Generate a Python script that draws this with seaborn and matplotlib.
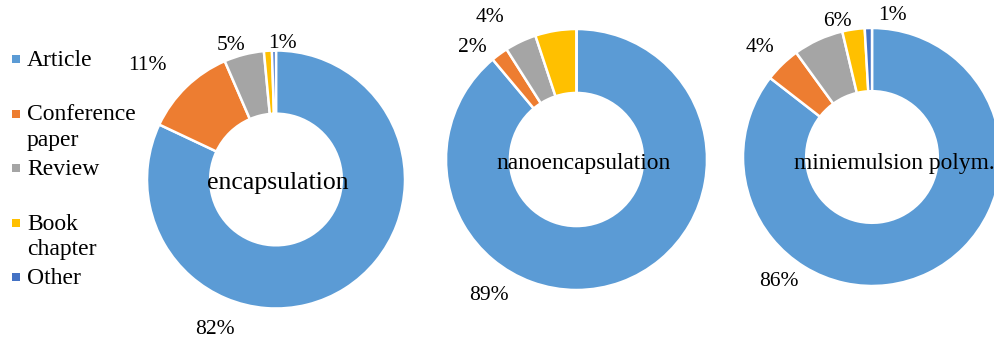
import matplotlib
matplotlib.use('Agg')

import matplotlib.pyplot as plt
import matplotlib.patches as mpatches
import seaborn as sns

# document types (legend order = wedge order, clockwise from 12 o'clock)
categories = ['Article', 'Conference paper', 'Review', 'Book chapter', 'Other']
legend_labels = ['Article', 'Conference\npaper', 'Review', 'Book\nchapter', 'Other']
colors = ['#5B9BD5', '#ED7D31', '#A5A5A5', '#FFC000', '#4472C4']

# one donut per search topic, shares in %
topics = ['encapsulation', 'nanoencapsulation', 'miniemulsion polym.']
encapsulation_share = [82.0, 11.5, 5.0, 1.0, 0.5]
nanoencapsulation_share = [88.9, 2.1, 3.9, 5.1, 0.0]
miniemulsion_share = [85.5, 4.5, 6.3, 2.8, 0.9]

# data labels as printed on the chart ('' = not shown)
encapsulation_labels = ['82%', '11%', '5%', '', '1%']
nanoencapsulation_labels = ['89%', '2%', '4%', '', '']
miniemulsion_labels = ['86%', '4%', '6%', '', '1%']

W, H = 994, 344


def to_y(y_px):
    # layout is measured top-down in pixels, axes run bottom-up
    return H - y_px


def draw_donut(ax, values, labels, title, center, radius, label_pos, title_pos, title_size):
    ax.pie(values, colors=palette, startangle=90, counterclock=False,
           radius=radius, center=(center[0], to_y(center[1])),
           wedgeprops=dict(width=0.49 * radius, edgecolor='white', linewidth=1.8))
    for text, pos in zip(labels, label_pos):
        if text and pos is not None:
            ax.text(pos[0], to_y(pos[1]), text, ha='center', va='center',
                    fontsize=15.5, color='#000000')
    ax.text(title_pos[0], to_y(title_pos[1]), title, ha='center', va='center',
            fontsize=title_size, color='#000000')


sns.set_theme(style='white')
plt.rcParams['font.family'] = ['Liberation Serif', 'DejaVu Serif']
palette = sns.color_palette(colors)

fig = plt.figure(figsize=(W / 100, H / 100), dpi=100)
ax = fig.add_axes([0, 0, 1, 1])

series = [
    (encapsulation_share, encapsulation_labels),
    (nanoencapsulation_share, nanoencapsulation_labels),
    (miniemulsion_share, miniemulsion_labels),
]

# donut placement (pixel centre, radius) and where Excel put the labels
centers = [(276, 179.5), (576.5, 159.5), (872, 157)]
radii = [129, 130.5, 129]
label_positions = [
    [(215, 330), (147, 66), (231, 45), None, (282, 43)],
    [(489, 295), (472, 48), (490, 18), None, None],
    [(779, 282), (760, 48), (837, 22), None, (892, 16)],
]
title_positions = [(277.5, 183), (584, 163), (894, 163)]
title_sizes = [18.5, 16.8, 16.9]

for (vals, labs), topic, c, r, lp, tp, ts in zip(series, topics, centers, radii,
                                                  label_positions, title_positions,
                                                  title_sizes):
    draw_donut(ax, vals, labs, topic, c, r, lp, tp, ts)

ax.set_xlim(0, W)
ax.set_ylim(0, H)
ax.set_aspect('equal')
ax.axis('off')

# legend on the left, one two-line slot per entry
for i, (lab, col) in enumerate(zip(legend_labels, palette)):
    y = 59 + 54.5 * i
    ax.add_patch(mpatches.Rectangle((11.5, to_y(y) - 4), 8, 8, facecolor=col,
                                    edgecolor='none'))
    ax.text(27, to_y(y) + 9, lab, ha='left', va='top', fontsize=17,
            linespacing=1.3, color='#000000')

plt.savefig('out.png', dpi=100)
plt.close()
